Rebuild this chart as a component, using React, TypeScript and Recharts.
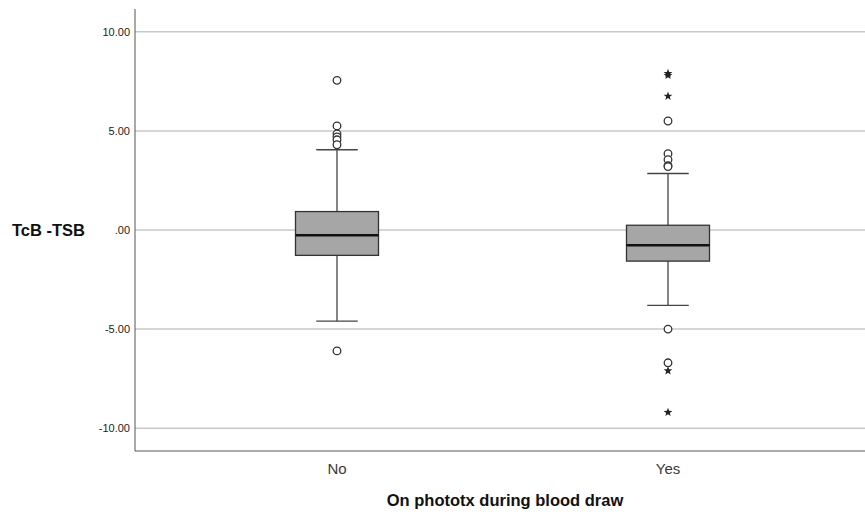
import {
  ComposedChart,
  Bar,
  Scatter,
  XAxis,
  YAxis,
  CartesianGrid,
} from "recharts";

// group labels
const categories = ["No", "Yes"];

// box plot summary per group
const whiskerLow = [-4.6, -3.8];
const q1 = [-1.28, -1.57];
const medians = [-0.26, -0.77];
const q3 = [0.93, 0.24];
const whiskerHigh = [4.05, 2.85];

// outliers: circles = mild, stars = extreme
const circleNo = [7.55, 5.25, 4.85, 4.7, 4.55, 4.3, -6.1];
const circleYes = [5.5, 3.85, 3.55, 3.25, 3.2, -5.0, -6.7];
const starYes = [7.9, 7.8, 6.75, -7.1, -9.2];

const yTicks = [-10, -5, 0, 5, 10];

const boxData = categories.map((cat, i) => ({
  cat,
  low: whiskerLow[i],
  q1: q1[i],
  median: medians[i],
  q3: q3[i],
  high: whiskerHigh[i],
}));

const circleData = [
  ...circleNo.map((v) => ({ cat: "No", v })),
  ...circleYes.map((v) => ({ cat: "Yes", v })),
];
const starData = starYes.map((v) => ({ cat: "Yes", v }));

const FONT = "'Liberation Sans', Arial, sans-serif";

function BoxShape(props: any) {
  const { x, y, width, height, payload } = props;
  const top = Math.min(y, y + height);
  const h = Math.abs(height);
  const { low, high } = payload;
  const toY = (v: number) => top + ((high - v) / (high - low)) * h;
  const cx = x + width / 2;
  const cap = width / 4;
  const line = "#444";
  return (
    <g>
      <line x1={cx} x2={cx} y1={toY(high)} y2={toY(payload.q3)} stroke={line} strokeWidth={1.3} />
      <line x1={cx} x2={cx} y1={toY(payload.q1)} y2={toY(low)} stroke={line} strokeWidth={1.3} />
      <line x1={cx - cap} x2={cx + cap} y1={toY(high)} y2={toY(high)} stroke={line} strokeWidth={1.3} />
      <line x1={cx - cap} x2={cx + cap} y1={toY(low)} y2={toY(low)} stroke={line} strokeWidth={1.3} />
      <rect
        x={x}
        y={toY(payload.q3)}
        width={width}
        height={toY(payload.q1) - toY(payload.q3)}
        fill="#a6a6a6"
        stroke="#333"
        strokeWidth={1.3}
      />
      <line
        x1={x}
        x2={x + width}
        y1={toY(payload.median)}
        y2={toY(payload.median)}
        stroke="#111"
        strokeWidth={2.5}
      />
    </g>
  );
}

function CircleShape(props: any) {
  const { cx, cy } = props;
  return <circle cx={cx} cy={cy} r={3.8} fill="#fff" stroke="#333" strokeWidth={1.3} />;
}

function StarShape(props: any) {
  const { cx, cy } = props;
  const outer = 4.6;
  const inner = 1.9;
  const pts: string[] = [];
  for (let k = 0; k < 10; k++) {
    const r = k % 2 === 0 ? outer : inner;
    const a = -Math.PI / 2 + (k * Math.PI) / 5;
    pts.push(`${cx + r * Math.cos(a)},${cy + r * Math.sin(a)}`);
  }
  return <polygon points={pts.join(" ")} fill="#222" />;
}

export default function App() {
  return (
    <div style={{ position: "absolute", left: 0, top: 0, background: "#fff", fontFamily: FONT }}>
      <ComposedChart
        width={865}
        height={514}
        data={boxData}
        margin={{ top: 9, right: 0, bottom: 0, left: 0 }}
      >
        <CartesianGrid
          vertical={false}
          horizontalValues={yTicks}
          stroke="#c8c8c8"
          strokeWidth={1.5}
        />
        <XAxis
          dataKey="cat"
          type="category"
          allowDuplicatedCategory={false}
          height={63}
          padding={{ left: 36.5, right: 31.5 }}
          tickLine={false}
          tickSize={0}
          tickMargin={12}
          axisLine={{ stroke: "#555" }}
          tick={{ fontSize: 15, fill: "#3a3a3a", fontFamily: FONT }}
          label={{
            value: "On phototx during blood draw",
            position: "insideBottom",
            offset: 8,
            dx: 5,
            style: { fontSize: 16.5, fontWeight: "bold", fill: "#111", fontFamily: FONT },
          }}
        />
        <YAxis
          type="number"
          domain={[-11.15, 11.15]}
          ticks={yTicks}
          width={135}
          tickLine={false}
          tickSize={0}
          tickMargin={5}
          axisLine={{ stroke: "#555" }}
          tick={{ fontSize: 11, fill: "#222", fontFamily: FONT }}
          tickFormatter={(v: number) => (v === 0 ? ".00" : v.toFixed(2))}
          label={{
            value: "TcB -TSB",
            position: "insideLeft",
            offset: 12,
            style: { fontSize: 16.5, fontWeight: "bold", fill: "#111", fontFamily: FONT, textAnchor: "start" },
          }}
        />
        <Bar
          dataKey={(d: any) => [d.low, d.high]}
          barSize={83}
          shape={<BoxShape />}
          isAnimationActive={false}
        />
        <Scatter data={circleData} dataKey="v" shape={<CircleShape />} isAnimationActive={false} />
        <Scatter data={starData} dataKey="v" shape={<StarShape />} isAnimationActive={false} />
      </ComposedChart>
    </div>
  );
}
